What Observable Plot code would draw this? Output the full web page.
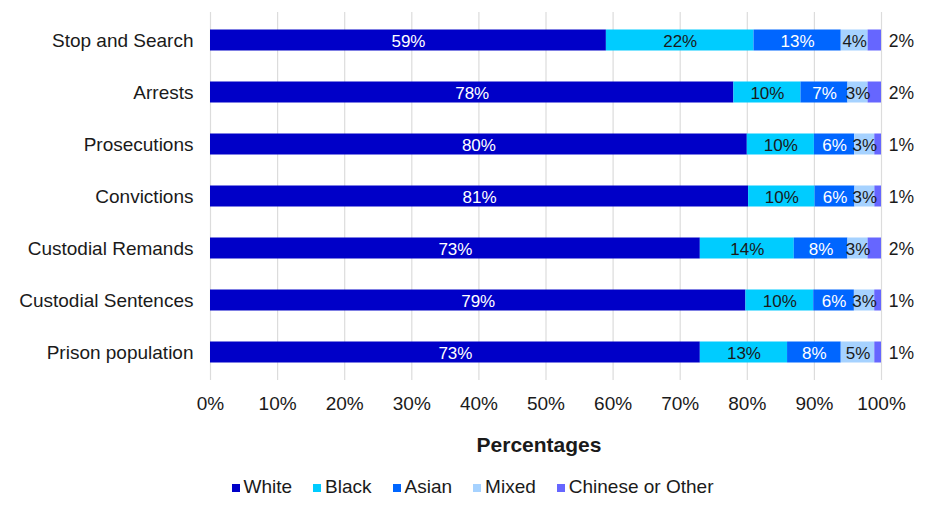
<!DOCTYPE html>
<html>
<head>
<meta charset="utf-8">
<script src="https://cdn.jsdelivr.net/npm/d3@7"></script>
<script src="https://cdn.jsdelivr.net/npm/@observablehq/plot@0.6"></script>
<style>
  html, body { margin: 0; padding: 0; background: #fff; }
  body { width: 931px; height: 509px; overflow: hidden; font-family: "Liberation Sans", Arial, sans-serif; }
  #chart svg { display: block; }
  #legend { display: flex; justify-content: center; gap: 21px; margin-top: 16px; font-size: 19px; color: #1a1a1a; line-height: 22px; padding-left: 14px; }
  #legend .item { display: flex; align-items: center; }
  #legend .sw { width: 8px; height: 8px; margin-right: 4px; margin-top: 1px; }
</style>
</head>
<body>
<div id="chart"></div>
<div id="legend"></div>
<script>
const categories = ["Stop and Search", "Arrests", "Prosecutions", "Convictions", "Custodial Remands", "Custodial Sentences", "Prison population"];
const groups = ["White", "Black", "Asian", "Mixed", "Chinese or Other"];
const white = [59, 78, 80, 81, 73, 79, 73];
const black = [22, 10, 10, 10, 14, 10, 13];
const asian = [13, 7, 6, 6, 8, 6, 8];
const mixed = [4, 3, 3, 3, 3, 3, 5];
const other = [2, 2, 1, 1, 2, 1, 1];
const xTicks = [0, 0.1, 0.2, 0.3, 0.4, 0.5, 0.6, 0.7, 0.8, 0.9, 1];
const colors = ["#0000c8", "#00ccff", "#0066ff", "#a6d2ff", "#6666ff"];

const series = [white, black, asian, mixed, other];
const rows = categories.flatMap((c, i) => groups.map((g, j) => ({category: c, group: g, value: series[j][i]})));
const lightText = new Set(["White", "Asian"]);
const darkText = new Set(["Black", "Mixed"]);

const chart = Plot.plot({
  width: 931,
  height: 460,
  marginLeft: 210,
  marginRight: 50,
  marginTop: 12,
  marginBottom: 80,
  style: {fontFamily: "'Liberation Sans', Arial, sans-serif", fontSize: "18px", color: "#1a1a1a", background: "#fff"},
  x: {domain: [0, 1], label: null},
  y: {domain: categories, padding: 0, label: null},
  color: {domain: groups, range: colors},
  marks: [
    Plot.gridX(xTicks, {stroke: "#dcdcdc", strokeOpacity: 1, strokeWidth: 1.2}),
    Plot.barX(rows, Plot.stackX({x: "value", y: "category", fill: "group", offset: "normalize", insetTop: 15.5, insetBottom: 15.5})),
    Plot.text(rows, Plot.stackX({x: "value", y: "category", z: "group", offset: "normalize",
      text: d => lightText.has(d.group) ? d.value + "%" : null, fill: "white", fontSize: 17, dy: 1})),
    Plot.text(rows, Plot.stackX({x: "value", y: "category", z: "group", offset: "normalize",
      text: d => darkText.has(d.group) ? d.value + "%" : null, fill: "#1a1a1a", fontSize: 17, dy: 1})),
    Plot.text(categories, {y: d => d, text: (d, i) => other[i] + "%", frameAnchor: "right", dx: 20, textAnchor: "middle", fill: "#1a1a1a", fontSize: 17.5, dy: 1}),
    Plot.axisX(xTicks, {tickSize: 0, tickPadding: 16, tickFormat: d3.format(".0%"), fontSize: 19, fill: "#1a1a1a"}),
    Plot.axisY({tickSize: 0, tickPadding: 17, fontSize: 19, fill: "#1a1a1a"}),
    Plot.text(["Percentages"], {frameAnchor: "bottom", dy: 71, fontWeight: "bold", fontSize: 21, fill: "#1a1a1a", dx: -7})
  ]
});
document.getElementById("chart").append(chart);

const legend = document.getElementById("legend");
groups.forEach((g, i) => {
  const item = document.createElement("div");
  item.className = "item";
  const sw = document.createElement("span");
  sw.className = "sw";
  sw.style.background = colors[i];
  item.append(sw, document.createTextNode(g));
  legend.append(item);
});
</script>
</body>
</html>
